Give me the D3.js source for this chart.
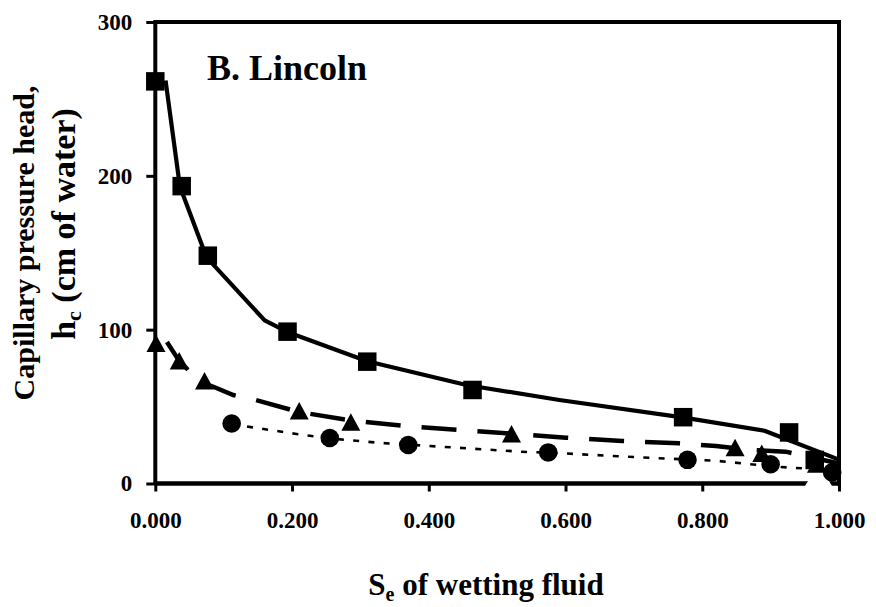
<!DOCTYPE html>
<html>
<head>
<meta charset="utf-8">
<script src="https://cdn.jsdelivr.net/npm/d3@7/dist/d3.min.js"></script>
<style>
  html, body { margin: 0; padding: 0; background: #fff; }
  svg { display: block; }
  svg text { font-family: "Liberation Serif", "DejaVu Serif", Times, serif !important; font-weight: bold; fill: #000; }
</style>
</head>
<body>
<svg id="chart" width="876" height="607"></svg>
<script>
// Measured points (effective saturation vs capillary head, cm of water)
const squareX   = [0.000, 0.0386, 0.0768, 0.1934, 0.310, 0.464, 0.772, 0.927, 0.9645];
const squareY   = [261.4, 193.3, 148.1, 98.7, 79.2, 60.8, 43.1, 33.2, 15.3];
const triangleX = [0.001, 0.035, 0.072, 0.2105, 0.286, 0.521, 0.848, 0.887, 0.967];
const triangleY = [91.2, 79.8, 66.8, 47.3, 39.9, 32.3, 23.4, 19.6, 12.7];
const circleX   = [0.1117, 0.2552, 0.370, 0.5747, 0.7784, 0.900, 0.990];
const circleY   = [39.0, 29.6, 25.0, 20.2, 15.4, 12.5, 7.2];
// Extra open triangle sitting on the x axis near full saturation
const openTriX  = [0.970];
const openTriY  = [5.5];

// Fitted retention curves
const solidFitX  = [0.015, 0.036, 0.075, 0.160, 0.193, 0.310, 0.455, 0.591, 0.771, 0.891, 1.000];
const solidFitY  = [262, 193, 147, 106, 98.5, 79.5, 64, 54.3, 43, 34.3, 15.5];
const dashedFitX = [0.017, 0.034, 0.048, 0.059, 0.085, 0.114, 0.143, 0.210, 0.286, 0.365, 0.445, 0.520, 0.601, 0.683, 0.766, 0.820, 0.871, 0.922, 1.000];
const dashedFitY = [92, 80.3, 73.8, 67, 62.9, 57.5, 54.7, 46.5, 41, 37.4, 34.8, 32.5, 29.8, 27.6, 26.1, 24.4, 21.8, 20.7, 13];
const dottedFitX = [0.112, 0.142, 0.2065, 0.255, 0.326, 0.394, 0.533, 0.596, 0.708, 0.820, 0.9075, 0.956, 1.000];
const dottedFitY = [38.5, 36.5, 32.2, 29.3, 26.5, 24.6, 20.7, 19.6, 17.0, 14.8, 10.9, 9.6, 7];

// Axis ticks
const xTicks = [0, 0.2, 0.4, 0.6, 0.8, 1.0];
const yTicks = [0, 100, 200, 300];

const FONT = "Liberation Serif, DejaVu Serif, serif";
const svg = d3.select("#chart");
const plot = { left: 155.3, right: 839, top: 22, bottom: 483.5 };

const x = d3.scaleLinear().domain([0, 1]).range([plot.left, plot.right]);
const y = d3.scaleLinear().domain([0, 300]).range([plot.bottom, plot.top]);

const zip = (xs, ys) => xs.map((v, i) => ({ x: v, y: ys[i] }));

// Plot frame (top and right borders)
svg.append("line").attr("x1", x(0)).attr("x2", x(1)).attr("y1", y(300)).attr("y2", y(300))
  .attr("stroke", "#000").attr("stroke-width", 4).attr("stroke-linecap", "square");
svg.append("line").attr("x1", x(1)).attr("x2", x(1)).attr("y1", y(300)).attr("y2", y(0))
  .attr("stroke", "#000").attr("stroke-width", 4).attr("stroke-linecap", "square");

// X axis
const xAxis = d3.axisBottom(x).tickValues(xTicks).tickFormat(d3.format(".3f")).tickSize(8).tickPadding(20);
const gx = svg.append("g").attr("transform", `translate(0,${plot.bottom})`).call(xAxis)
  .attr("font-family", FONT).attr("font-size", 23).attr("font-weight", "bold");
gx.select(".domain").attr("stroke-width", 4.5).attr("d", `M${x(0)},0H${x(1)}`);
gx.selectAll(".tick line").attr("stroke-width", 3);
gx.selectAll(".tick text").attr("dy", "0.71em");

// Y axis
const yAxis = d3.axisLeft(y).tickValues(yTicks).tickFormat(d3.format("d")).tickSize(9).tickPadding(14);
const gy = svg.append("g").attr("transform", `translate(${plot.left},0)`).call(yAxis)
  .attr("font-family", FONT).attr("font-size", 23).attr("font-weight", "bold");
gy.select(".domain").attr("stroke-width", 4).attr("d", `M0,${y(0)}V${y(300)}`);
gy.selectAll(".tick line").attr("stroke-width", 3);

// Open triangle marker (white fill) over the x axis
const triPath = (w, h) => `M0,${-h / 2}L${w / 2},${h / 2}L${-w / 2},${h / 2}Z`;
svg.append("g").selectAll("path").data(zip(openTriX, openTriY)).join("path")
  .attr("transform", d => `translate(${x(d.x)},${y(d.y)})`)
  .attr("d", triPath(27, 22)).attr("fill", "#fff");

// Curves
const line = d3.line().x(d => x(d.x)).y(d => y(d.y));
svg.append("path").datum(zip(solidFitX, solidFitY)).attr("d", line)
  .attr("fill", "none").attr("stroke", "#000").attr("stroke-width", 4.2).attr("stroke-linejoin", "round");
svg.append("path").datum(zip(dashedFitX, dashedFitY)).attr("d", line)
  .attr("fill", "none").attr("stroke", "#000").attr("stroke-width", 4.5)
  .attr("stroke-dasharray", "35 21");
svg.append("path").datum(zip(dottedFitX, dottedFitY)).attr("d", line)
  .attr("fill", "none").attr("stroke", "#000").attr("stroke-width", 2.6)
  .attr("stroke-dasharray", "6 9.3");

// Markers
svg.append("g").selectAll("rect").data(zip(squareX, squareY)).join("rect")
  .attr("x", d => x(d.x) - 9.25).attr("y", d => y(d.y) - 9.25)
  .attr("width", 18.5).attr("height", 18.5).attr("fill", "#000");
svg.append("g").selectAll("path").data(zip(triangleX, triangleY)).join("path")
  .attr("transform", d => `translate(${x(d.x)},${y(d.y)})`)
  .attr("d", triPath(19, 17.5)).attr("fill", "#000");
svg.append("g").selectAll("circle").data(zip(circleX, circleY)).join("circle")
  .attr("cx", d => x(d.x)).attr("cy", d => y(d.y)).attr("r", 9.3).attr("fill", "#000");

// Panel label
svg.append("text").attr("x", 207).attr("y", 80).attr("font-family", FONT).attr("font-weight", "bold")
  .attr("font-size", 36).text("B. Lincoln");

// X axis title
const xt = svg.append("text").attr("x", 486).attr("y", 595).attr("text-anchor", "middle")
  .attr("font-family", FONT).attr("font-weight", "bold").attr("font-size", 31);
xt.append("tspan").text("S");
xt.append("tspan").attr("dy", 6).attr("font-size", 20).text("e");
xt.append("tspan").attr("dy", -6).text(" of wetting fluid");

// Y axis title (two lines)
svg.append("text").attr("transform", "translate(34,243) rotate(-90)")
  .attr("text-anchor", "middle").attr("font-family", FONT).attr("font-weight", "bold")
  .attr("font-size", 30).text("Capillary pressure head,");
const yt = svg.append("text").attr("transform", "translate(75,224) rotate(-90)")
  .attr("text-anchor", "middle").attr("font-family", FONT).attr("font-weight", "bold").attr("font-size", 34);
yt.append("tspan").text("h");
yt.append("tspan").attr("dy", 6).attr("font-size", 22).text("c");
yt.append("tspan").attr("dy", -6).text(" (cm of water)");
</script>
</body>
</html>
